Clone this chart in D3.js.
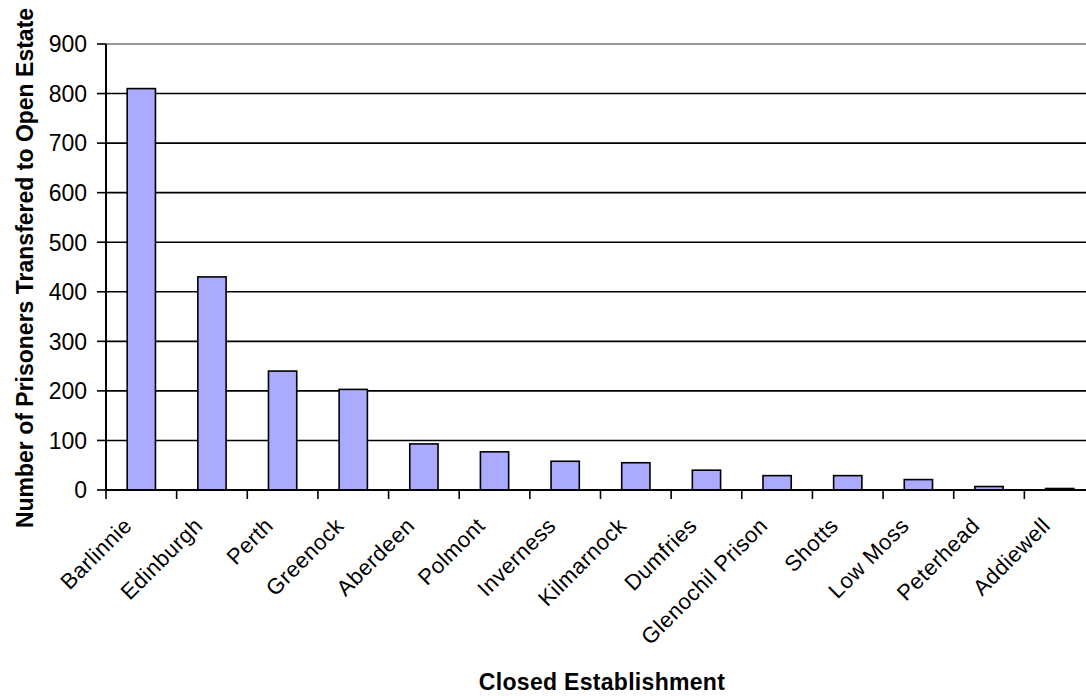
<!DOCTYPE html>
<html>
<head>
<meta charset="utf-8">
<script src="https://cdn.jsdelivr.net/npm/d3@7"></script>
<style>
  body { margin: 0; background: #fff; }
  text { font-family: "Liberation Sans", Arial, sans-serif; fill: #000; }
</style>
</head>
<body>
<div id="chart"></div>
<script>
// chart data
var establishments = ["Barlinnie", "Edinburgh", "Perth", "Greenock", "Aberdeen", "Polmont",
  "Inverness", "Kilmarnock", "Dumfries", "Glenochil Prison", "Shotts", "Low Moss",
  "Peterhead", "Addiewell"];
var transfers = [810, 430, 240, 203, 93, 77, 58, 55, 40, 29, 29, 21, 7, 3];
var yTicks = [0, 100, 200, 300, 400, 500, 600, 700, 800, 900];

var width = 1086,
    height = 696;

var plotLeft = 106, plotTop = 44, plotBottom = 490, plotRight = 1095;

var svg = d3.select("#chart").append("svg")
    .attr("width", width)
    .attr("height", height);

var x = d3.scaleBand()
    .domain(establishments)
    .range([plotLeft, plotRight])
    .paddingInner(0.6)
    .paddingOuter(0.3);

var y = d3.scaleLinear()
    .domain([0, 900])
    .range([plotBottom, plotTop]);

var step = x.step();

// horizontal gridlines
svg.append("g")
  .selectAll("line")
    .data(yTicks.filter(function(d) { return d > 0; }))
  .enter().append("line")
    .attr("x1", plotLeft)
    .attr("x2", width)
    .attr("y1", function(d) { return y(d); })
    .attr("y2", function(d) { return y(d); })
    .attr("stroke", function(d) { return d === 900 ? "#777" : "#000"; })
    .attr("stroke-width", 1.6);

// bars
svg.append("g")
  .selectAll("rect")
    .data(establishments)
  .enter().append("rect")
    .attr("x", function(d) { return x(d); })
    .attr("y", function(d, i) { return y(transfers[i]); })
    .attr("width", x.bandwidth())
    .attr("height", function(d, i) { return y(0) - y(transfers[i]); })
    .attr("fill", "#aaaaff")
    .attr("stroke", "#000")
    .attr("stroke-width", 1.6);

// y axis
var yAxis = svg.append("g");
yAxis.append("line")
    .attr("x1", plotLeft).attr("x2", plotLeft)
    .attr("y1", plotTop).attr("y2", plotBottom)
    .attr("stroke", "#000").attr("stroke-width", 2);
yAxis.selectAll(".tick")
    .data(yTicks)
  .enter().append("line")
    .attr("x1", plotLeft - 9).attr("x2", plotLeft)
    .attr("y1", function(d) { return y(d); })
    .attr("y2", function(d) { return y(d); })
    .attr("stroke", "#000").attr("stroke-width", 1.6);
yAxis.selectAll("text")
    .data(yTicks)
  .enter().append("text")
    .attr("x", 87)
    .attr("y", function(d) { return y(d); })
    .attr("dy", "0.36em")
    .attr("text-anchor", "end")
    .style("font-size", "23px")
    .text(function(d) { return d; });

// x axis
var xAxis = svg.append("g");
xAxis.append("line")
    .attr("x1", plotLeft).attr("x2", width)
    .attr("y1", plotBottom).attr("y2", plotBottom)
    .attr("stroke", "#000").attr("stroke-width", 2);
var bounds = establishments.map(function(d) { return x(d) - step * 0.3; });
bounds.push(plotRight);
xAxis.selectAll(".tick")
    .data(bounds)
  .enter().append("line")
    .attr("x1", function(d) { return d; })
    .attr("x2", function(d) { return d; })
    .attr("y1", plotBottom)
    .attr("y2", plotBottom + 9)
    .attr("stroke", "#000").attr("stroke-width", 1.6);
xAxis.selectAll("text")
    .data(establishments)
  .enter().append("text")
    .attr("transform", function(d) {
      return "translate(" + (x(d) + x.bandwidth() / 2 - 8) + "," + 527 + ") rotate(-45)";
    })
    .attr("text-anchor", "end")
    .style("font-size", "22px")
    .style("letter-spacing", "0.5px")
    .text(function(d) { return d; });

// axis titles
svg.append("text")
    .attr("transform", "translate(33,268) rotate(-90)")
    .attr("text-anchor", "middle")
    .style("font-size", "23px")
    .style("font-weight", "bold")
    .text("Number of Prisoners Transfered to Open Estate");

svg.append("text")
    .attr("x", 602)
    .attr("y", 690)
    .attr("text-anchor", "middle")
    .style("font-size", "23px")
    .style("font-weight", "bold")
    .style("letter-spacing", "0.3px")
    .text("Closed Establishment");
</script>
</body>
</html>
